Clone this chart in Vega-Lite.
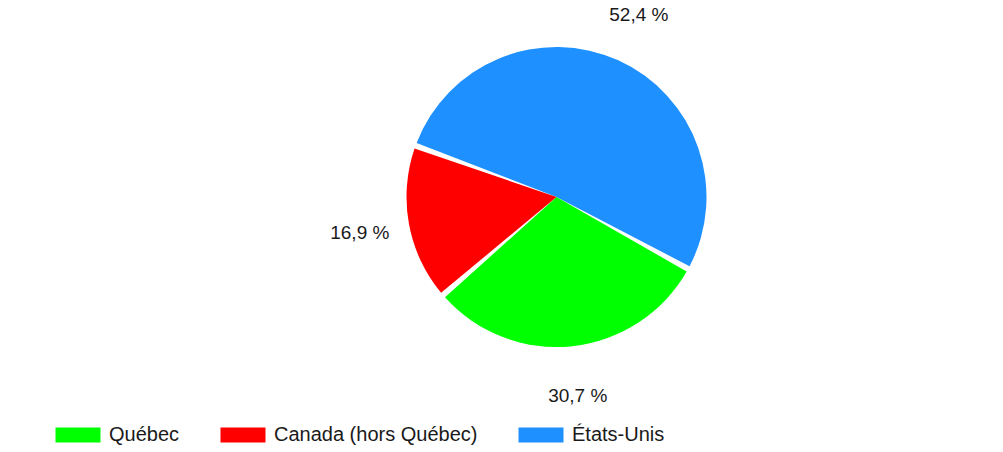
{
  "$schema": "https://vega.github.io/schema/vega-lite/v6.json",
  "width": 1003,
  "height": 452,
  "autosize": {"type": "fit", "contains": "padding"},
  "padding": {"left": 110, "top": 12, "right": 0, "bottom": 70},
  "background": "white",
  "config": {"view": {"stroke": null}, "font": "Liberation Sans"},
  "data": {
    "values": [
      {"region": "États-Unis", "pct": 52.4, "label": "52,4 %", "rank": 1},
      {"region": "Québec", "pct": 30.7, "label": "30,7 %", "rank": 2},
      {"region": "Canada (hors Québec)", "pct": 16.9, "label": "16,9 %", "rank": 3}
    ]
  },
  "encoding": {
    "theta": {"field": "pct", "type": "quantitative", "stack": true, "scale": {"range": [-1.2217, 5.0615]}},
    "order": {"field": "rank", "type": "quantitative"},
    "color": {
      "field": "region",
      "type": "nominal",
      "scale": {"domain": ["Québec", "Canada (hors Québec)", "États-Unis"], "range": ["#00ff00", "#ff0000", "#1e90ff"]},
      "legend": {
        "title": null,
        "orient": "none",
        "legendX": -47,
        "legendY": 408,
        "direction": "horizontal",
        "columns": 3,
        "columnPadding": 40,
        "labelFontSize": 20,
        "labelLimit": 0,
        "labelColor": "#1a1a1a",
        "labelFont": "Liberation Sans",
        "labelOffset": 16,
        "symbolType": "M-1.5,-0.5H1.5V0.5H-1.5Z",
        "symbolSize": 900,
        "symbolStrokeWidth": 0,
        "symbolOpacity": 1
      }
    }
  },
  "layer": [
    {"mark": {"type": "arc", "outerRadius": 150, "padAngle": 0.04, "opacity": 1}},
    {
      "mark": {"type": "text", "radius": 200, "fontSize": 19, "font": "Liberation Sans", "fill": "#1a1a1a"},
      "encoding": {"text": {"field": "label", "type": "nominal"}, "color": {"value": "#1a1a1a"}}
    }
  ]
}
